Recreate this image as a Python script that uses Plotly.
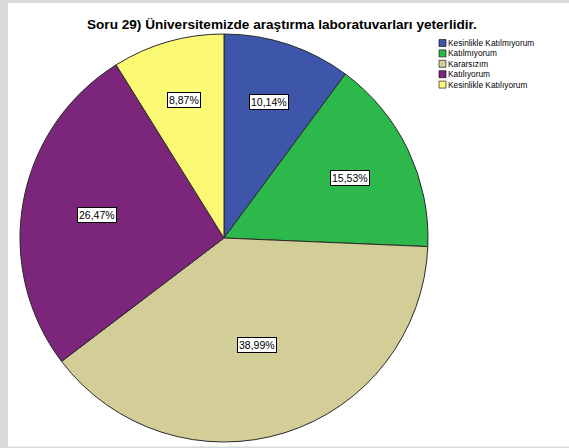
import math
import plotly.graph_objects as go

categories = ["Kesinlikle Katılmıyorum", "Katılmıyorum", "Kararsızım", "Katılıyorum", "Kesinlikle Katılıyorum"]
percentages = [10.14, 15.53, 38.99, 26.47, 8.87]
value_labels = ["10,14%", "15,53%", "38,99%", "26,47%", "8,87%"]
colors = ["#3e56a9", "#2db84c", "#d3ce97", "#7b267b", "#fbf874"]
title_text = "Soru 29) Üniversitemizde araştırma laboratuvarları yeterlidir."

W, H = 569, 448
CX, CY, R = 224, 238, 204  # pie center/radius in px (layout)

def px(x):
    return x / W

def py(y):
    return 1 - y / H

fig = go.Figure()
fig.add_trace(go.Pie(
    labels=categories,
    values=percentages,
    marker=dict(colors=colors, line=dict(color="#2a2a2a", width=1)),
    sort=False,
    direction="clockwise",
    rotation=0,
    textinfo="none",
    hoverinfo="label+percent",
    showlegend=False,
    domain=dict(x=[px(CX - R), px(CX + R)], y=[py(CY + R), py(CY - R)]),
))

annotations = []
total = sum(percentages)
cum = 0.0
for val, lab in zip(percentages, value_labels):
    theta = 2 * math.pi * val / total
    mid = 2 * math.pi * cum / total + theta / 2
    cum += val
    # sector centroid distance
    d = 2 * R * math.sin(theta / 2) / (3 * theta / 2) * 1.07
    lx = CX + d * math.sin(mid)
    ly = CY - d * math.cos(mid)
    annotations.append(dict(
        x=px(lx), y=py(ly), xref="paper", yref="paper",
        text=lab, showarrow=False,
        font=dict(family="Liberation Sans, Arial", size=10.5, color="#000000"),
        bgcolor="#ffffff", bordercolor="#000000", borderwidth=1, borderpad=1,
        xanchor="center", yanchor="middle",
    ))

# title
annotations.append(dict(
    x=px(282), y=py(25), xref="paper", yref="paper",
    text="<b>" + title_text + "</b>", showarrow=False,
    font=dict(family="Liberation Sans, Arial", size=13.6, color="#000000"),
    xanchor="center", yanchor="middle",
))

shapes = [
    dict(type="rect", xref="paper", yref="paper", x0=0, x1=px(8), y0=0, y1=1,
         fillcolor="#d9d9d9", line=dict(width=0), layer="above"),
    dict(type="rect", xref="paper", yref="paper", x0=0, x1=1, y0=py(3), y1=1,
         fillcolor="#d9d9d9", line=dict(width=0), layer="above"),
    dict(type="rect", xref="paper", yref="paper", x0=0, x1=1, y0=0, y1=py(446.5),
         fillcolor="#d9d9d9", line=dict(width=0), layer="above"),
]

# custom compact legend
for i, (cat, col) in enumerate(zip(categories, colors)):
    yc = 43 + i * 10.4
    shapes.append(dict(type="rect", xref="paper", yref="paper",
                       x0=px(439), x1=px(446), y0=py(yc + 3.5), y1=py(yc - 3.5),
                       fillcolor=col, line=dict(color="#000000", width=0.6)))
    annotations.append(dict(
        x=px(446), y=py(yc), xref="paper", yref="paper",
        text=cat, showarrow=False,
        font=dict(family="Liberation Sans, Arial", size=8.3, color="#000000"),
        xanchor="left", yanchor="middle",
    ))

fig.update_layout(
    width=W, height=H,
    margin=dict(l=0, r=0, t=0, b=0),
    paper_bgcolor="#ffffff",
    plot_bgcolor="#ffffff",
    annotations=annotations,
    shapes=shapes,
)

fig.write_html(
    "out.html",
    config={"displayModeBar": False},
    post_script="document.body.style.margin='0';document.body.style.overflow='hidden';",
)
